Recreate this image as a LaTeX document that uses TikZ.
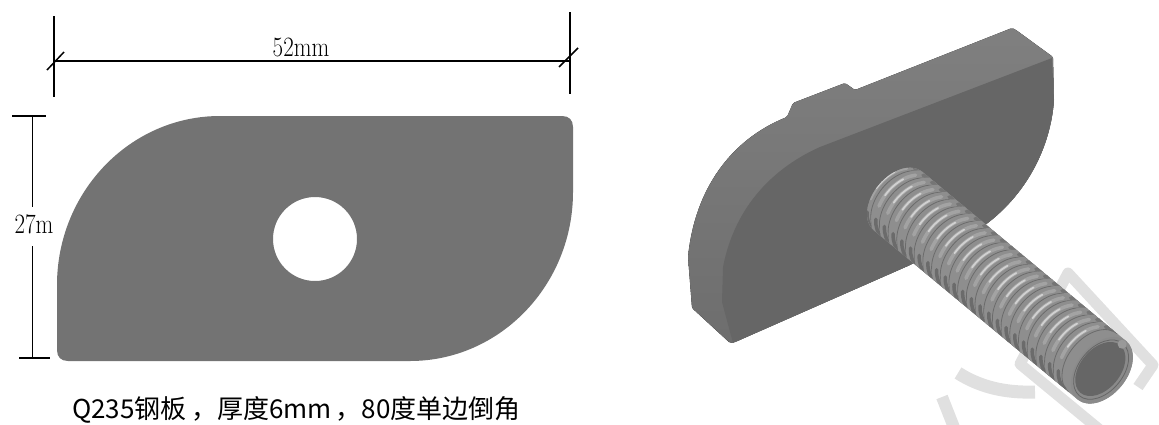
\documentclass[tikz,border=0pt]{standalone}
\usepackage{fontspec}
\usepackage{xcolor}
\usetikzlibrary{positioning,calc}
\newfontfamily\cjkfont{Noto Sans CJK SC}
\definecolor{platecol}{HTML}{737373}
\definecolor{facecol}{HTML}{666666}
\definecolor{markcol}{HTML}{E0E0E0}
\definecolor{boltcol}{HTML}{8E8E8E}
% one piece of a thread ring, in the frame of the bolt
\newcommand{\threadarc}[4]{\draw[#4] ({#1+25*cos(#2)},{-38*sin(#2)}) arc[start angle=#2, end angle=#3, x radius=25pt, y radius=38pt];}

\begin{document}
\begin{tikzpicture}[
	x=1pt, y=-1pt,
	dim_line/.style={black, line width=1.5pt},
	dim_text/.style={font=\fontsize{28}{28}\selectfont, xscale=0.82, inner sep=0pt},
	mark_strip/.style={markcol, line width=11pt, line join=round},
	thread_band/.style={boltcol, line width=9pt},
	thread_soft/.style={#1, line width=3.5pt, line cap=round},
	thread_lit/.style={#1, line width=1.8pt, line cap=round},
	thread_groove/.style={#1, line width=0.8pt}
	]
	\useasboundingbox (0,0) rectangle (1159,424);
	
	% ================= PLATE (left) =================
	\fill[platecol, even odd rule]
		(57,285) .. controls (57,192) and (130,116) .. (220,116)
		-- (562,116) .. controls (569,116) and (573,120) .. (573,127)
		-- (573,192) .. controls (573,285) and (500,361) .. (410,361)
		-- (68,361) .. controls (61,361) and (57,357) .. (57,350) -- cycle
		(315,239) circle[radius=42pt];
	
	% top dimension
	\coordinate (w-a1) at (54,16);
	\coordinate (w-a2) at (54,97);
	\coordinate (w-b1) at (570,12);
	\coordinate (w-b2) at (570,94);
	\coordinate (w-l) at (54,61);
	\coordinate (w-r) at (570,61);
	\coordinate (t-l1) at (47,70);
	\coordinate (t-l2) at (64,52);
	\coordinate (t-r1) at (559,67);
	\coordinate (t-r2) at (578,48);
	\draw[dim_line] (w-a1) -- (w-a2);
	\draw[dim_line] (w-b1) -- (w-b2);
	\draw[dim_line] (w-l) -- (w-r);
	\draw[dim_line] (t-l1) -- (t-l2);
	\draw[dim_line] (t-r1) -- (t-r2);
	\node[dim_text] (w-txt) at (301,47) {52mm};
	
	% left dimension
	\node[dim_text] (h-txt) at (34,224) {27m};
	\coordinate (h-t) at (32.5,116);
	\coordinate (h-b) at (32.5,358);
	\coordinate (h-t1) at (12,116);
	\coordinate (h-t2) at (46,116);
	\coordinate (h-b1) at (19,358);
	\coordinate (h-b2) at (50,358);
	\draw[dim_line] (h-t) -- (32.5,207);
	\draw[dim_line] (32.5,246) -- (h-b);
	\draw[dim_line] (h-t1) -- (h-t2);
	\draw[dim_line] (h-b1) -- (h-b2);
	
	\node[font=\cjkfont\fontsize{26}{26}\selectfont, inner sep=0pt, anchor=base] (note) at (296.5,418) {Q235钢板\,，厚度6mm\,，80度单边倒角};
	
	% ================= WATERMARK =================
	\draw[mark_strip] (1138,387) -- (1153,365) -- (1068,273) -- (1020,364) -- (1100,430);
	\draw[markcol, line width=13pt] (958,373) .. controls (980,387) and (1005,393) .. (1035,392);
	\draw[markcol, line width=12pt] (942,397) -- (955,430);
	
	% ================= BOLT PLATE (right) =================
	\fill[top color=black!50, bottom color=black!57, rounded corners=1.5pt]
		(1012,28) -- (1016,30) -- (1053,57) -- (1054,100)
		.. controls (1050,150) and (1025,195) .. (985,225)
		-- (910,265) -- (735,342) -- (730,343) -- (692,308)
		-- (688,257) .. controls (695,190) and (730,140) .. (787,117)
		-- (793,103) -- (845,83) -- (855,90) -- cycle;
	\fill[facecol]
		(1052,58) -- (1054,100)
		.. controls (1050,150) and (1025,195) .. (985,225)
		-- (910,265) -- (733,343) -- (722,302) -- (723,267)
		.. controls (735,205) and (775,167) .. (820,147) -- cycle;
	
	% ================= THREADS =================
	\begin{scope}[shift={(898,201)}, rotate=-39.7]
		\fill[boltcol] (0,-38) arc[start angle=90, end angle=270, x radius=25pt, y radius=38pt]
			-- (265,38) arc[start angle=-90, end angle=90, x radius=25pt, y radius=38pt] -- cycle;
		\begin{scope}
			\clip (0,-38) arc[start angle=90, end angle=270, x radius=25pt, y radius=38pt]
				-- (265,38) arc[start angle=-90, end angle=90, x radius=25pt, y radius=38pt] -- cycle;
			\foreach \pos [count=\j] in {0,11.3,...,250} {
				\threadarc{\pos}{90}{270}{thread_band}
				\threadarc{\pos}{228}{270}{thread_soft=black!58}
				\threadarc{\pos}{92}{110}{thread_soft=black!54}
				\threadarc{\pos}{125}{205}{thread_soft=black!36}
				\threadarc{\pos}{148}{186}{thread_lit=black!18}
				\threadarc{\pos+4.8}{90}{270}{thread_groove=black!58}
			}
		\end{scope}
		% end of the bolt
		\fill[black!46] (265,0) ellipse[x radius=25pt, y radius=38pt];
		\draw[black!60, line width=0.8pt] (264,0) ellipse[x radius=22pt, y radius=34pt];
		\fill[facecol] (263,0) ellipse[x radius=20pt, y radius=31pt];
		\fill[black!40] (264,-33) circle[radius=4.5pt];
	\end{scope}
\end{tikzpicture}
\end{document}
